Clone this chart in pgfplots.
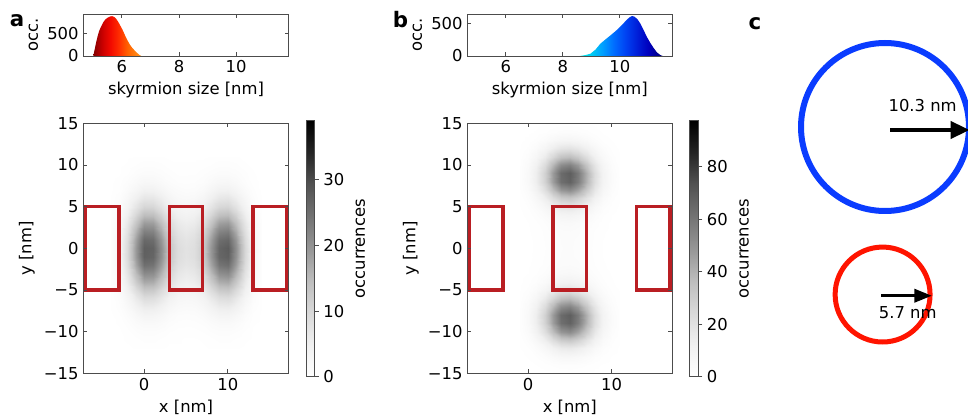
\documentclass[border=0pt]{standalone}
\usepackage{pgfplots}
\pgfplotsset{compat=1.18}
\usepackage{fontspec}
\setmainfont{DejaVu Sans}
\usetikzlibrary{arrows.meta}
\definecolor{rectred}{RGB}{185,30,35}
\definecolor{cblue}{RGB}{10,60,255}
\definecolor{cred}{RGB}{255,20,0}
\pgfdeclarehorizontalshading{histA}{100bp}{rgb(0bp)=(0.51,0,0); rgb(25bp)=(0.51,0,0); rgb(33.9bp)=(0.78,0,0); rgb(42.9bp)=(0.95,0.04,0); rgb(51.8bp)=(1,0.18,0); rgb(60.7bp)=(1,0.38,0); rgb(75bp)=(1,0.6,0.12); rgb(100bp)=(1,0.6,0.12)}
\pgfdeclarehorizontalshading{histB}{100bp}{rgb(0bp)=(0,0.92,0.9); rgb(25bp)=(0,0.92,0.9); rgb(31.9bp)=(0,0.8,0.95); rgb(38.8bp)=(0,0.62,1); rgb(45.7bp)=(0,0.42,1); rgb(52.6bp)=(0,0.26,0.95); rgb(59.5bp)=(0,0.12,0.85); rgb(66.4bp)=(0,0,0.74); rgb(75bp)=(0,0,0.47); rgb(100bp)=(0,0,0.47)}
\pgfplotsset{
  colormap={greys}{rgb255=(255,255,255) rgb255=(240,240,240) rgb255=(217,217,217) rgb255=(189,189,189) rgb255=(150,150,150) rgb255=(115,115,115) rgb255=(82,82,82) rgb255=(37,37,37) rgb255=(0,0,0)},
  myax/.style={scale only axis, anchor=south west,
    axis line style={black!70, line width=0.6pt},
    tick style={black!70, line width=0.6pt}, major tick length=3pt,
    tick align=inside, tick pos=both,
    font=\fontsize{12.3}{14}\selectfont,
    /pgf/number format/assume math mode=true},
  mycb/.style={colorbar, colorbar style={scale only axis, width=6.45pt, height=192pt,
    at={(parent axis.north east)}, anchor=north west, xshift=4.5pt, yshift=1.95pt,
    axis line style={black!70, line width=0.6pt},
    tick style={black!70, line width=0.6pt}, major tick length=3pt,
    tick align=outside, ytick pos=right, yticklabel pos=right,
    ylabel={occurrences},
    ylabel style={at={(ticklabel cs:0.5,1.75pt)}, anchor=near ticklabel},
    font=\fontsize{12.3}{14}\selectfont,
    /pgf/number format/assume math mode=true, #1}},
}
\begin{document}
\begin{tikzpicture}
\useasboundingbox (0,0) rectangle (726pt,313.5pt);

% ---------- panel a: histogram
\begin{axis}[myax, at={(62.475pt,271.5pt)}, width=154.05pt, height=31.275pt,
  xmin=4.65, xmax=11.84, ymin=0, ymax=915, xtick={6,8,10}, ytick={0,500},
  xlabel={skyrmion size [nm]}, ylabel={occ.}]
\addplot[draw=none, shading=histA] coordinates {
(5.00,0) (5.05,150) (5.10,300) (5.15,430) (5.20,540) (5.25,615) (5.30,680) (5.35,740)
(5.42,800) (5.50,840) (5.58,865) (5.66,875) (5.75,850) (5.82,800) (5.89,730) (5.95,660)
(6.02,580) (6.12,440) (6.20,340) (6.28,250) (6.36,180) (6.45,120) (6.53,70) (6.60,30) (6.68,0)} \closedcycle;
\end{axis}

% ---------- panel b: histogram
\begin{axis}[myax, at={(350.475pt,271.5pt)}, width=153.75pt, height=31.275pt,
  xmin=4.65, xmax=11.84, ymin=0, ymax=638, xtick={6,8,10}, ytick={0,500},
  xlabel={skyrmion size [nm]}, ylabel={occ.}]
\addplot[draw=none, shading=histB] coordinates {
(8.60,0) (8.80,15) (8.97,35) (9.15,100) (9.32,190) (9.50,255) (9.67,315) (9.85,380)
(10.00,443) (10.15,510) (10.25,557) (10.35,595) (10.43,612) (10.52,600) (10.62,560)
(10.72,495) (10.83,400) (10.95,290) (11.07,200) (11.18,126) (11.30,55) (11.42,15) (11.50,0)} \closedcycle;
\end{axis}

% ---------- panel a: map
\begin{axis}[myax, at={(62.475pt,33.525pt)}, width=154.05pt, height=187.5pt,
  xmin=-7.27, xmax=17.27, ymin=-15, ymax=15, xtick={0,10},
  ytick={-15,-10,-5,0,5,10,15}, yticklabels={−15,−10,−5,0,5,10,15},
  xlabel={x [nm]}, ylabel={y [nm]}, axis on top,
  colormap name=greys, point meta min=0, point meta max=39,
  mycb={ytick={0,10,20,30}}]
\addplot[surf, shader=interp, mesh/cols=19, point meta=explicit] table[x=x, y=y, meta=z, row sep=\\] {
x y z\\
-4 -12 0.0\\ -3 -12 0.0\\ -2 -12 0.1\\ -1 -12 0.2\\ 0 -12 0.2\\ 1 -12 0.2\\ 2 -12 0.2\\ 3 -12 0.1\\ 4 -12 0.1\\ 5 -12 0.1\\ 6 -12 0.1\\ 7 -12 0.1\\ 8 -12 0.2\\ 9 -12 0.2\\ 10 -12 0.2\\ 11 -12 0.2\\ 12 -12 0.1\\ 13 -12 0.0\\ 14 -12 0.0\\
-4 -11 0.0\\ -3 -11 0.1\\ -2 -11 0.2\\ -1 -11 0.3\\ 0 -11 0.6\\ 1 -11 0.6\\ 2 -11 0.4\\ 3 -11 0.2\\ 4 -11 0.2\\ 5 -11 0.1\\ 6 -11 0.1\\ 7 -11 0.2\\ 8 -11 0.3\\ 9 -11 0.6\\ 10 -11 0.6\\ 11 -11 0.4\\ 12 -11 0.2\\ 13 -11 0.1\\ 14 -11 0.0\\
-4 -10 0.0\\ -3 -10 0.1\\ -2 -10 0.3\\ -1 -10 0.8\\ 0 -10 1.0\\ 1 -10 1.0\\ 2 -10 0.8\\ 3 -10 0.5\\ 4 -10 0.3\\ 5 -10 0.3\\ 6 -10 0.3\\ 7 -10 0.5\\ 8 -10 0.8\\ 9 -10 1.0\\ 10 -10 1.0\\ 11 -10 0.8\\ 12 -10 0.4\\ 13 -10 0.1\\ 14 -10 0.0\\
-4 -9 0.1\\ -3 -9 0.2\\ -2 -9 0.7\\ -1 -9 1.5\\ 0 -9 2.0\\ 1 -9 2.0\\ 2 -9 1.6\\ 3 -9 1.0\\ 4 -9 0.7\\ 5 -9 0.6\\ 6 -9 0.7\\ 7 -9 0.9\\ 8 -9 1.5\\ 9 -9 1.9\\ 10 -9 2.0\\ 11 -9 1.5\\ 12 -9 0.8\\ 13 -9 0.2\\ 14 -9 0.1\\
-4 -8 0.1\\ -3 -8 0.4\\ -2 -8 1.2\\ -1 -8 2.5\\ 0 -8 3.6\\ 1 -8 3.5\\ 2 -8 2.7\\ 3 -8 1.7\\ 4 -8 1.1\\ 5 -8 1.0\\ 6 -8 1.1\\ 7 -8 1.6\\ 8 -8 2.6\\ 9 -8 3.5\\ 10 -8 3.6\\ 11 -8 2.7\\ 12 -8 1.3\\ 13 -8 0.4\\ 14 -8 0.1\\
-4 -7 0.2\\ -3 -7 0.7\\ -2 -7 1.9\\ -1 -7 4.1\\ 0 -7 5.8\\ 1 -7 5.7\\ 2 -7 4.4\\ 3 -7 2.8\\ 4 -7 1.9\\ 5 -7 1.7\\ 6 -7 1.8\\ 7 -7 2.6\\ 8 -7 4.1\\ 9 -7 5.6\\ 10 -7 5.8\\ 11 -7 4.4\\ 12 -7 2.1\\ 13 -7 0.7\\ 14 -7 0.2\\
-4 -6 0.2\\ -3 -6 1.0\\ -2 -6 3.0\\ -1 -6 6.3\\ 0 -6 9.0\\ 1 -6 8.7\\ 2 -6 6.7\\ 3 -6 4.3\\ 4 -6 2.9\\ 5 -6 2.6\\ 6 -6 2.8\\ 7 -6 4.0\\ 8 -6 6.4\\ 9 -6 8.6\\ 10 -6 9.0\\ 11 -6 6.6\\ 12 -6 3.2\\ 13 -6 1.1\\ 14 -6 0.2\\
-4 -5 0.3\\ -3 -5 1.5\\ -2 -5 4.3\\ -1 -5 9.0\\ 0 -5 12.8\\ 1 -5 12.5\\ 2 -5 9.6\\ 3 -5 6.2\\ 4 -5 4.1\\ 5 -5 3.7\\ 6 -5 4.0\\ 7 -5 5.7\\ 8 -5 9.2\\ 9 -5 12.4\\ 10 -5 12.9\\ 11 -5 9.5\\ 12 -5 4.7\\ 13 -5 1.6\\ 14 -5 0.3\\
-4 -4 0.6\\ -3 -4 1.9\\ -2 -4 5.7\\ -1 -4 12.1\\ 0 -4 17.1\\ 1 -4 16.8\\ 2 -4 12.9\\ 3 -4 8.2\\ 4 -4 5.6\\ 5 -4 4.9\\ 6 -4 5.4\\ 7 -4 7.7\\ 8 -4 12.2\\ 9 -4 16.6\\ 10 -4 17.2\\ 11 -4 12.8\\ 12 -4 6.3\\ 13 -4 2.1\\ 14 -4 0.6\\
-4 -3 0.7\\ -3 -3 2.4\\ -2 -3 7.2\\ -1 -3 15.0\\ 0 -3 21.3\\ 1 -3 20.9\\ 2 -3 16.1\\ 3 -3 10.2\\ 4 -3 6.9\\ 5 -3 6.0\\ 6 -3 6.7\\ 7 -3 9.5\\ 8 -3 15.2\\ 9 -3 20.7\\ 10 -3 21.5\\ 11 -3 15.9\\ 12 -3 7.8\\ 13 -3 2.6\\ 14 -3 0.7\\
-4 -2 0.8\\ -3 -2 2.8\\ -2 -2 8.4\\ -1 -2 17.5\\ 0 -2 24.9\\ 1 -2 24.3\\ 2 -2 18.7\\ 3 -2 11.9\\ 4 -2 8.1\\ 5 -2 7.1\\ 6 -2 7.8\\ 7 -2 11.2\\ 8 -2 17.7\\ 9 -2 24.1\\ 10 -2 25.1\\ 11 -2 18.5\\ 12 -2 9.1\\ 13 -2 3.0\\ 14 -2 0.8\\
-4 -1 0.8\\ -3 -1 3.0\\ -2 -1 9.1\\ -1 -1 19.0\\ 0 -1 27.0\\ 1 -1 26.4\\ 2 -1 20.4\\ 3 -1 13.0\\ 4 -1 8.8\\ 5 -1 7.7\\ 6 -1 8.5\\ 7 -1 12.1\\ 8 -1 19.3\\ 9 -1 26.2\\ 10 -1 27.2\\ 11 -1 20.0\\ 12 -1 9.9\\ 13 -1 3.2\\ 14 -1 0.8\\
-4 0 0.8\\ -3 0 3.0\\ -2 0 9.2\\ -1 0 19.3\\ 0 0 27.3\\ 1 0 26.8\\ 2 0 20.6\\ 3 0 13.1\\ 4 0 9.0\\ 5 0 7.8\\ 6 0 8.6\\ 7 0 12.3\\ 8 0 19.6\\ 9 0 26.5\\ 10 0 27.7\\ 11 0 20.4\\ 12 0 10.1\\ 13 0 3.4\\ 14 0 0.8\\
-4 1 0.8\\ -3 1 2.9\\ -2 1 8.7\\ -1 1 18.3\\ 0 1 25.9\\ 1 1 25.3\\ 2 1 19.5\\ 3 1 12.4\\ 4 1 8.4\\ 5 1 7.4\\ 6 1 8.2\\ 7 1 11.6\\ 8 1 18.5\\ 9 1 25.1\\ 10 1 26.1\\ 11 1 19.3\\ 12 1 9.5\\ 13 1 3.1\\ 14 1 0.8\\
-4 2 0.7\\ -3 2 2.6\\ -2 2 7.7\\ -1 2 16.1\\ 0 2 22.8\\ 1 2 22.4\\ 2 2 17.2\\ 3 2 11.0\\ 4 2 7.5\\ 5 2 6.5\\ 6 2 7.3\\ 7 2 10.3\\ 8 2 16.4\\ 9 2 22.2\\ 10 2 23.1\\ 11 2 17.0\\ 12 2 8.4\\ 13 2 2.8\\ 14 2 0.7\\
-4 3 0.6\\ -3 3 2.1\\ -2 3 6.4\\ -1 3 13.2\\ 0 3 18.8\\ 1 3 18.5\\ 2 3 14.2\\ 3 3 9.1\\ 4 3 6.2\\ 5 3 5.4\\ 6 3 5.9\\ 7 3 8.4\\ 8 3 13.4\\ 9 3 18.3\\ 10 3 19.0\\ 11 3 14.0\\ 12 3 6.9\\ 13 3 2.4\\ 14 3 0.6\\
-4 4 0.4\\ -3 4 1.6\\ -2 4 4.8\\ -1 4 10.2\\ 0 4 14.4\\ 1 4 14.2\\ 2 4 11.0\\ 3 4 6.9\\ 4 4 4.7\\ 5 4 4.1\\ 6 4 4.6\\ 7 4 6.5\\ 8 4 10.3\\ 9 4 14.0\\ 10 4 14.6\\ 11 4 10.8\\ 12 4 5.3\\ 13 4 1.8\\ 14 4 0.4\\
-4 5 0.3\\ -3 5 1.1\\ -2 5 3.5\\ -1 5 7.3\\ 0 5 10.4\\ 1 5 10.2\\ 2 5 7.8\\ 3 5 4.9\\ 4 5 3.4\\ 5 5 2.9\\ 6 5 3.2\\ 7 5 4.7\\ 8 5 7.4\\ 9 5 10.1\\ 10 5 10.5\\ 11 5 7.7\\ 12 5 3.8\\ 13 5 1.2\\ 14 5 0.3\\
-4 6 0.2\\ -3 6 0.8\\ -2 6 2.4\\ -1 6 4.9\\ 0 6 6.9\\ 1 6 6.8\\ 2 6 5.3\\ 3 6 3.4\\ 4 6 2.2\\ 5 6 2.0\\ 6 6 2.2\\ 7 6 3.1\\ 8 6 4.9\\ 9 6 6.7\\ 10 6 7.1\\ 11 6 5.2\\ 12 6 2.6\\ 13 6 0.9\\ 14 6 0.2\\
-4 7 0.1\\ -3 7 0.4\\ -2 7 1.5\\ -1 7 3.0\\ 0 7 4.4\\ 1 7 4.3\\ 2 7 3.2\\ 3 7 2.1\\ 4 7 1.5\\ 5 7 1.2\\ 6 7 1.3\\ 7 7 1.9\\ 8 7 3.1\\ 9 7 4.3\\ 10 7 4.4\\ 11 7 3.2\\ 12 7 1.6\\ 13 7 0.6\\ 14 7 0.1\\
-4 8 0.1\\ -3 8 0.3\\ -2 8 0.9\\ -1 8 1.8\\ 0 8 2.6\\ 1 8 2.5\\ 2 8 1.9\\ 3 8 1.2\\ 4 8 0.8\\ 5 8 0.7\\ 6 8 0.8\\ 7 8 1.1\\ 8 8 1.8\\ 9 8 2.5\\ 10 8 2.6\\ 11 8 1.9\\ 12 8 0.9\\ 13 8 0.3\\ 14 8 0.1\\
-4 9 0.0\\ -3 9 0.1\\ -2 9 0.4\\ -1 9 1.0\\ 0 9 1.3\\ 1 9 1.3\\ 2 9 1.0\\ 3 9 0.7\\ 4 9 0.4\\ 5 9 0.4\\ 6 9 0.4\\ 7 9 0.7\\ 8 9 1.0\\ 9 9 1.3\\ 10 9 1.3\\ 11 9 1.0\\ 12 9 0.6\\ 13 9 0.2\\ 14 9 0.0\\
-4 10 0.0\\ -3 10 0.1\\ -2 10 0.2\\ -1 10 0.5\\ 0 10 0.7\\ 1 10 0.7\\ 2 10 0.6\\ 3 10 0.3\\ 4 10 0.2\\ 5 10 0.2\\ 6 10 0.2\\ 7 10 0.3\\ 8 10 0.5\\ 9 10 0.7\\ 10 10 0.7\\ 11 10 0.6\\ 12 10 0.2\\ 13 10 0.1\\ 14 10 0.0\\
-4 11 0.0\\ -3 11 0.0\\ -2 11 0.1\\ -1 11 0.2\\ 0 11 0.3\\ 1 11 0.3\\ 2 11 0.2\\ 3 11 0.1\\ 4 11 0.1\\ 5 11 0.1\\ 6 11 0.1\\ 7 11 0.1\\ 8 11 0.2\\ 9 11 0.3\\ 10 11 0.3\\ 11 11 0.2\\ 12 11 0.1\\ 13 11 0.0\\ 14 11 0.0\\
};
\addplot[draw=rectred, line width=2.5pt, line join=miter] coordinates {(-7,-5) (-3,-5) (-3,5) (-7,5)} -- cycle;
\addplot[draw=rectred, line width=2.5pt, line join=miter] coordinates {(3,-5) (7,-5) (7,5) (3,5)} -- cycle;
\addplot[draw=rectred, line width=2.5pt, line join=miter] coordinates {(13,-5) (17,-5) (17,5) (13,5)} -- cycle;
\end{axis}

% ---------- panel b: map
\begin{axis}[myax, at={(350.475pt,33.525pt)}, width=153.75pt, height=187.5pt,
  xmin=-7.27, xmax=17.27, ymin=-15, ymax=15, xtick={0,10},
  ytick={-15,-10,-5,0,5,10,15}, yticklabels={−15,−10,−5,0,5,10,15},
  xlabel={x [nm]}, ylabel={y [nm]}, axis on top,
  colormap name=greys, point meta min=0, point meta max=97.5,
  mycb={ytick={0,20,40,60,80}}]
\addplot[surf, shader=interp, mesh/cols=13, point meta=explicit] table[x=x, y=y, meta=z, row sep=\\] {
x y z\\
-1 -15 0.0\\ 0 -15 0.0\\ 1 -15 0.1\\ 2 -15 0.2\\ 3 -15 0.3\\ 4 -15 0.5\\ 5 -15 0.5\\ 6 -15 0.4\\ 7 -15 0.3\\ 8 -15 0.2\\ 9 -15 0.1\\ 10 -15 0.0\\ 11 -15 0.0\\
-1 -14 0.0\\ 0 -14 0.1\\ 1 -14 0.4\\ 2 -14 0.8\\ 3 -14 1.4\\ 4 -14 1.9\\ 5 -14 2.0\\ 6 -14 1.7\\ 7 -14 1.2\\ 8 -14 0.6\\ 9 -14 0.3\\ 10 -14 0.1\\ 11 -14 0.0\\
-1 -13 0.1\\ 0 -13 0.5\\ 1 -13 1.2\\ 2 -13 2.6\\ 3 -13 4.4\\ 4 -13 6.0\\ 5 -13 6.4\\ 6 -13 5.4\\ 7 -13 3.7\\ 8 -13 2.0\\ 9 -13 0.9\\ 10 -13 0.3\\ 11 -13 0.1\\
-1 -12 0.4\\ 0 -12 1.2\\ 1 -12 3.1\\ 2 -12 6.6\\ 3 -12 11.2\\ 4 -12 15.0\\ 5 -12 16.0\\ 6 -12 13.7\\ 7 -12 9.3\\ 8 -12 5.0\\ 9 -12 2.2\\ 10 -12 0.8\\ 11 -12 0.2\\
-1 -11 0.7\\ 0 -11 2.4\\ 1 -11 6.4\\ 2 -11 13.4\\ 3 -11 22.6\\ 4 -11 30.3\\ 5 -11 32.5\\ 6 -11 27.7\\ 7 -11 18.8\\ 8 -11 10.2\\ 9 -11 4.4\\ 10 -11 1.5\\ 11 -11 0.4\\
-1 -10 1.2\\ 0 -10 3.8\\ 1 -10 10.2\\ 2 -10 21.5\\ 3 -10 36.3\\ 4 -10 48.7\\ 5 -10 52.2\\ 6 -10 44.5\\ 7 -10 30.3\\ 8 -10 16.4\\ 9 -10 7.1\\ 10 -10 2.5\\ 11 -10 0.7\\
-1 -9 1.5\\ 0 -9 4.9\\ 1 -9 13.1\\ 2 -9 27.6\\ 3 -9 46.6\\ 4 -9 62.5\\ 5 -9 66.9\\ 6 -9 57.1\\ 7 -9 38.8\\ 8 -9 21.0\\ 9 -9 9.1\\ 10 -9 3.2\\ 11 -9 0.9\\
-1 -8 1.5\\ 0 -8 5.0\\ 1 -8 13.4\\ 2 -8 28.2\\ 3 -8 47.6\\ 4 -8 63.9\\ 5 -8 68.4\\ 6 -8 58.3\\ 7 -8 39.7\\ 8 -8 21.5\\ 9 -8 9.3\\ 10 -8 3.2\\ 11 -8 0.9\\
-1 -7 1.2\\ 0 -7 4.1\\ 1 -7 10.9\\ 2 -7 23.1\\ 3 -7 38.9\\ 4 -7 52.2\\ 5 -7 55.8\\ 6 -7 47.6\\ 7 -7 32.4\\ 8 -7 17.6\\ 9 -7 7.6\\ 10 -7 2.6\\ 11 -7 0.7\\
-1 -6 0.8\\ 0 -6 2.7\\ 1 -6 7.1\\ 2 -6 15.0\\ 3 -6 25.2\\ 4 -6 33.9\\ 5 -6 36.2\\ 6 -6 30.9\\ 7 -6 21.0\\ 8 -6 11.4\\ 9 -6 4.9\\ 10 -6 1.7\\ 11 -6 0.5\\
-1 -5 0.4\\ 0 -5 1.5\\ 1 -5 4.0\\ 2 -5 8.4\\ 3 -5 14.1\\ 4 -5 19.0\\ 5 -5 20.3\\ 6 -5 17.3\\ 7 -5 11.8\\ 8 -5 6.4\\ 9 -5 2.8\\ 10 -5 1.0\\ 11 -5 0.3\\
-1 -4 0.2\\ 0 -4 0.8\\ 1 -4 2.1\\ 2 -4 4.4\\ 3 -4 7.5\\ 4 -4 10.0\\ 5 -4 10.8\\ 6 -4 9.2\\ 7 -4 6.2\\ 8 -4 3.4\\ 9 -4 1.5\\ 10 -4 0.5\\ 11 -4 0.1\\
-1 -3 0.1\\ 0 -3 0.4\\ 1 -3 1.1\\ 2 -3 2.3\\ 3 -3 3.9\\ 4 -3 5.2\\ 5 -3 5.6\\ 6 -3 4.8\\ 7 -3 3.2\\ 8 -3 1.8\\ 9 -3 0.8\\ 10 -3 0.3\\ 11 -3 0.1\\
-1 -2 0.1\\ 0 -2 0.3\\ 1 -2 0.7\\ 2 -2 1.5\\ 3 -2 2.6\\ 4 -2 3.4\\ 5 -2 3.7\\ 6 -2 3.1\\ 7 -2 2.1\\ 8 -2 1.2\\ 9 -2 0.5\\ 10 -2 0.2\\ 11 -2 0.0\\
-1 -1 0.1\\ 0 -1 0.2\\ 1 -1 0.6\\ 2 -1 1.3\\ 3 -1 2.1\\ 4 -1 2.9\\ 5 -1 3.1\\ 6 -1 2.6\\ 7 -1 1.8\\ 8 -1 1.0\\ 9 -1 0.4\\ 10 -1 0.1\\ 11 -1 0.0\\
-1 0 0.1\\ 0 0 0.2\\ 1 0 0.6\\ 2 0 1.2\\ 3 0 2.1\\ 4 0 2.8\\ 5 0 3.0\\ 6 0 2.5\\ 7 0 1.7\\ 8 0 0.9\\ 9 0 0.4\\ 10 0 0.1\\ 11 0 0.0\\
-1 1 0.1\\ 0 1 0.2\\ 1 1 0.6\\ 2 1 1.3\\ 3 1 2.1\\ 4 1 2.9\\ 5 1 3.1\\ 6 1 2.6\\ 7 1 1.8\\ 8 1 1.0\\ 9 1 0.4\\ 10 1 0.1\\ 11 1 0.0\\
-1 2 0.1\\ 0 2 0.3\\ 1 2 0.7\\ 2 2 1.4\\ 3 2 2.4\\ 4 2 3.3\\ 5 2 3.5\\ 6 2 3.0\\ 7 2 2.0\\ 8 2 1.1\\ 9 2 0.5\\ 10 2 0.2\\ 11 2 0.0\\
-1 3 0.1\\ 0 3 0.4\\ 1 3 1.0\\ 2 3 2.1\\ 3 3 3.5\\ 4 3 4.7\\ 5 3 5.0\\ 6 3 4.2\\ 7 3 2.9\\ 8 3 1.6\\ 9 3 0.7\\ 10 3 0.2\\ 11 3 0.1\\
-1 4 0.2\\ 0 4 0.7\\ 1 4 1.8\\ 2 4 3.9\\ 3 4 6.5\\ 4 4 8.7\\ 5 4 9.4\\ 6 4 8.0\\ 7 4 5.4\\ 8 4 2.9\\ 9 4 1.3\\ 10 4 0.4\\ 11 4 0.1\\
-1 5 0.4\\ 0 5 1.3\\ 1 5 3.4\\ 2 5 7.2\\ 3 5 12.2\\ 4 5 16.4\\ 5 5 17.5\\ 6 5 14.9\\ 7 5 10.2\\ 8 5 5.5\\ 9 5 2.4\\ 10 5 0.8\\ 11 5 0.2\\
-1 6 0.7\\ 0 6 2.4\\ 1 6 6.4\\ 2 6 13.4\\ 3 6 22.6\\ 4 6 30.3\\ 5 6 32.5\\ 6 6 27.7\\ 7 6 18.8\\ 8 6 10.2\\ 9 6 4.4\\ 10 6 1.5\\ 11 6 0.4\\
-1 7 1.2\\ 0 7 3.8\\ 1 7 10.2\\ 2 7 21.5\\ 3 7 36.3\\ 4 7 48.7\\ 5 7 52.2\\ 6 7 44.5\\ 7 7 30.3\\ 8 7 16.4\\ 9 7 7.1\\ 10 7 2.5\\ 11 7 0.7\\
-1 8 1.5\\ 0 8 4.9\\ 1 8 13.1\\ 2 8 27.6\\ 3 8 46.6\\ 4 8 62.5\\ 5 8 66.9\\ 6 8 57.1\\ 7 8 38.8\\ 8 8 21.0\\ 9 8 9.1\\ 10 8 3.2\\ 11 8 0.9\\
-1 9 1.5\\ 0 9 5.0\\ 1 9 13.4\\ 2 9 28.2\\ 3 9 47.6\\ 4 9 63.9\\ 5 9 68.4\\ 6 9 58.3\\ 7 9 39.7\\ 8 9 21.5\\ 9 9 9.3\\ 10 9 3.2\\ 11 9 0.9\\
-1 10 1.2\\ 0 10 4.1\\ 1 10 10.9\\ 2 10 23.1\\ 3 10 38.9\\ 4 10 52.2\\ 5 10 55.8\\ 6 10 47.6\\ 7 10 32.4\\ 8 10 17.6\\ 9 10 7.6\\ 10 10 2.6\\ 11 10 0.7\\
-1 11 0.8\\ 0 11 2.7\\ 1 11 7.1\\ 2 11 15.0\\ 3 11 25.2\\ 4 11 33.9\\ 5 11 36.2\\ 6 11 30.9\\ 7 11 21.0\\ 8 11 11.4\\ 9 11 4.9\\ 10 11 1.7\\ 11 11 0.5\\
-1 12 0.4\\ 0 12 1.4\\ 1 12 3.7\\ 2 12 7.8\\ 3 12 13.1\\ 4 12 17.6\\ 5 12 18.8\\ 6 12 16.0\\ 7 12 10.9\\ 8 12 5.9\\ 9 12 2.6\\ 10 12 0.9\\ 11 12 0.2\\
-1 13 0.2\\ 0 13 0.6\\ 1 13 1.5\\ 2 13 3.2\\ 3 13 5.4\\ 4 13 7.2\\ 5 13 7.7\\ 6 13 6.6\\ 7 13 4.5\\ 8 13 2.4\\ 9 13 1.0\\ 10 13 0.4\\ 11 13 0.1\\
-1 14 0.1\\ 0 14 0.2\\ 1 14 0.5\\ 2 14 1.1\\ 3 14 1.8\\ 4 14 2.4\\ 5 14 2.6\\ 6 14 2.2\\ 7 14 1.5\\ 8 14 0.8\\ 9 14 0.3\\ 10 14 0.1\\ 11 14 0.0\\
-1 15 0.0\\ 0 15 0.0\\ 1 15 0.1\\ 2 15 0.3\\ 3 15 0.5\\ 4 15 0.6\\ 5 15 0.7\\ 6 15 0.6\\ 7 15 0.4\\ 8 15 0.2\\ 9 15 0.1\\ 10 15 0.0\\ 11 15 0.0\\
};
\addplot[draw=rectred, line width=2.5pt, line join=miter] coordinates {(-7,-5) (-3,-5) (-3,5) (-7,5)} -- cycle;
\addplot[draw=rectred, line width=2.5pt, line join=miter] coordinates {(3,-5) (7,-5) (7,5) (3,5)} -- cycle;
\addplot[draw=rectred, line width=2.5pt, line join=miter] coordinates {(13,-5) (17,-5) (17,5) (13,5)} -- cycle;
\end{axis}

% ---------- panel c: schematic
\draw[line width=4.5pt, cblue] (663.75pt,218.25pt) circle[radius=63pt];
\draw[line width=2.3pt, -{Triangle[length=14pt,width=13pt]}] (667.5pt,216pt) -- (727pt,216pt);
\node[font=\fontsize{12.3}{14}\selectfont] at (692pt,234pt) {10.3 nm};
\draw[line width=3.75pt, cred] (661.95pt,92.6pt) circle[radius=35.6pt];
\draw[line width=1.9pt, -{Triangle[length=13pt,width=10pt]}] (660.75pt,91.7pt) -- (698.8pt,91.7pt);
\node[font=\fontsize{12.3}{14}\selectfont] at (680.8pt,79.3pt) {5.7 nm};

% ---------- panel letters
\node[font=\bfseries\fontsize{16}{18}\selectfont] at (12.75pt,297.75pt) {a};
\node[font=\bfseries\fontsize{16}{18}\selectfont] at (300.4pt,298.5pt) {b};
\node[font=\bfseries\fontsize{16}{18}\selectfont] at (566.25pt,295.5pt) {c};
\end{tikzpicture}
\end{document}
